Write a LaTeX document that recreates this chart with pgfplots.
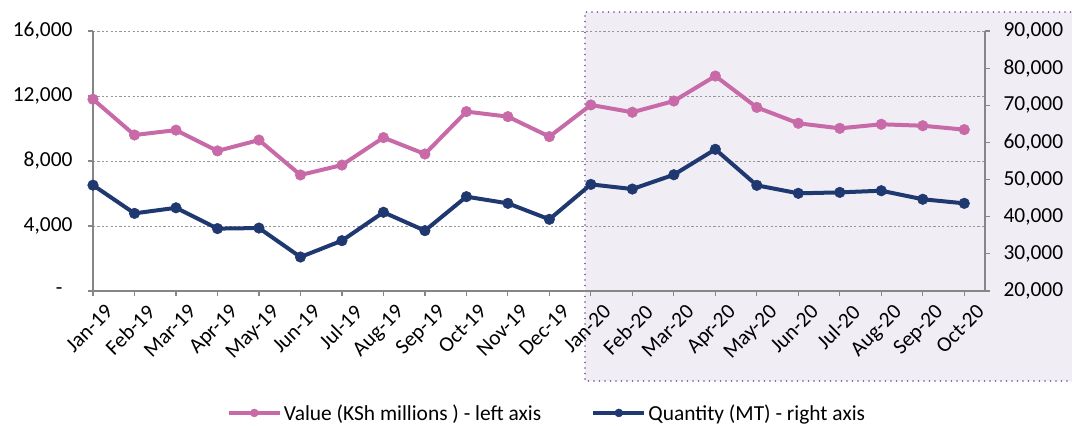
\documentclass[border=0pt]{standalone}
\usepackage{pgfplots}
\pgfplotsset{compat=1.18}
\usepackage{fontspec}
\setmainfont{Carlito}
\definecolor{pinkc}{RGB}{200,106,168}
\definecolor{navyc}{RGB}{31,56,112}
\definecolor{shadec}{RGB}{240,237,245}
\definecolor{dotc}{RGB}{112,72,170}
\definecolor{axc}{RGB}{134,134,134}
\definecolor{gridc}{RGB}{150,150,150}
\newcommand{\tfont}{\fontsize{21.5}{23}\selectfont}
\pgfplotstableread{
x value quantity
0 11800 48500
1 9600 40900
2 9900 42400
3 8620 36800
4 9290 36950
5 7140 29150
6 7750 33550
7 9440 41200
8 8430 36250
9 11040 45400
10 10730 43600
11 9500 39300
12 11450 48700
13 11000 47450
14 11690 51300
15 13230 58150
16 11300 48450
17 10320 46300
18 10010 46550
19 10260 47000
20 10170 44700
21 9930 43600
}\datatable
\pgfplotsset{
  common/.style={
    width=892bp, height=260bp, scale only axis,
    at={(0,0)}, anchor=south west,
    xmin=0, xmax=21.5,
    xtick={0,...,21},
    scaled y ticks=false,
    axis line style={axc, line width=1.2bp},
    tick style={axc, line width=1.2bp},
    tick align=outside, major tick length=5bp,
    ticklabel style={font=\tfont},
  },
  pinkstyle/.style={pinkc, line width=4bp, mark=*, mark size=5.3bp, mark options={fill=pinkc, draw=pinkc, line width=0.5bp}},
  navystyle/.style={navyc, line width=4bp, mark=*, mark size=5.3bp, mark options={fill=navyc, draw=navyc, line width=0.5bp}},
}
\begin{document}
\begin{tikzpicture}[x=1bp,y=1bp]
\path[use as bounding box] (-93,-134) rectangle (979,291);
\fill[shadec] (492,279) rectangle (985,-90);
\draw[dotc, line width=1.8bp, line cap=round, dash pattern=on 0bp off 5.5bp] (985,-90) -- (492,-90) -- (492,279) -- (985,279);
\begin{axis}[common,
  ymin=0, ymax=16000,
  axis y line*=left, axis x line*=bottom,
  xticklabels={Jan-19,Feb-19,Mar-19,Apr-19,May-19,Jun-19,Jul-19,Aug-19,Sep-19,Oct-19,Nov-19,Dec-19,Jan-20,Feb-20,Mar-20,Apr-20,May-20,Jun-20,Jul-20,Aug-20,Sep-20,Oct-20},
  x tick label style={rotate=45, anchor=north east, inner sep=0bp, xshift=3bp, yshift=-13bp},
  ytick={0,4000,8000,12000,16000},
  yticklabels={{-\hspace*{10bp}},{4,000},{8,000},{12,000},{16,000}},
  y tick label style={xshift=-12bp},
  ymajorgrids,
  grid style={gridc, line width=0.8bp, dash pattern=on 2.2bp off 2.2bp},
]
\addplot[pinkstyle] table[x=x, y=value] {\datatable};
\end{axis}
\begin{axis}[common,
  ymin=20000, ymax=90000,
  axis y line*=right, axis x line=none,
  ytick={20000,30000,40000,50000,60000,70000,80000,90000},
  yticklabels={{20,000},{30,000},{40,000},{50,000},{60,000},{70,000},{80,000},{90,000}},
  y tick label style={xshift=10bp},
  legend columns=2,
  legend style={at={(0.150,-0.469)}, anchor=west, draw=none, fill=none, font=\tfont,
    inner sep=0pt, outer sep=0pt,
    /tikz/every even column/.append style={column sep=48bp}},
  legend cell align=left,
  legend image code/.code={
    \draw[#1, mark=none] (0bp,0bp) -- (51bp,0bp);
    \draw[#1, only marks, mark size=4bp] plot coordinates {(25.5bp,0bp)};
  },
]
\addlegendimage{pinkstyle}
\addlegendentry{Value (KSh millions ) - left axis}
\addplot[navystyle] table[x=x, y=quantity] {\datatable};
\addlegendentry{Quantity (MT) - right axis}
\end{axis}
\end{tikzpicture}
\end{document}
